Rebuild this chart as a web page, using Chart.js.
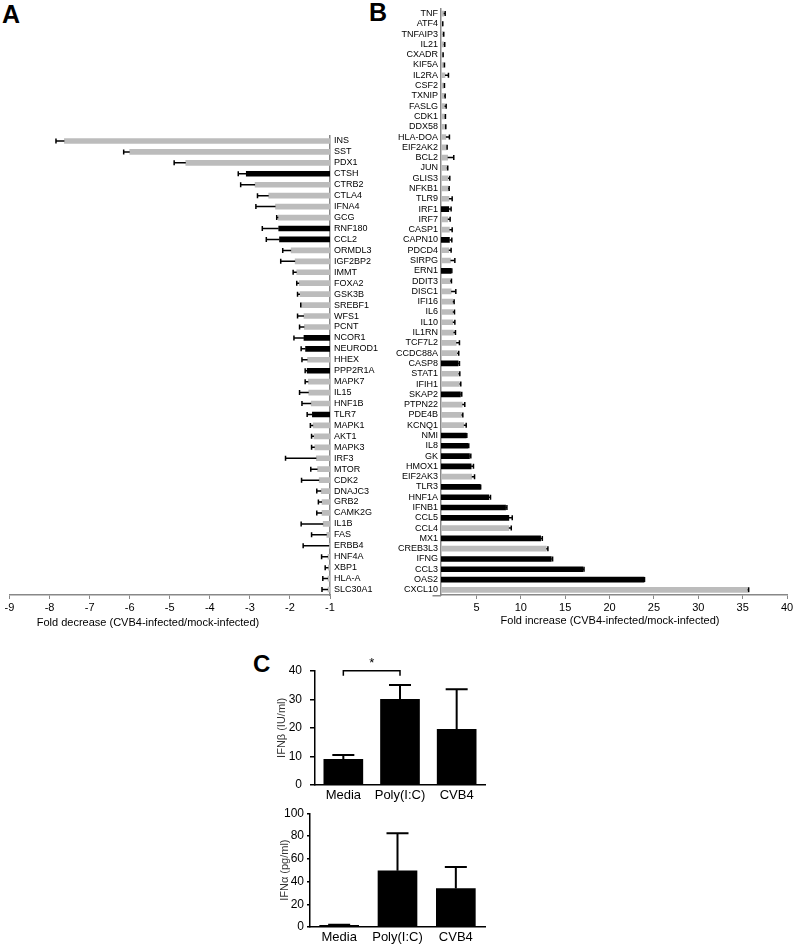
<!DOCTYPE html>
<html>
<head>
<meta charset="utf-8">
<script src="https://cdn.jsdelivr.net/npm/chart.js"></script>
<style>
body { margin:0; background:#fff; width:797px; height:947px; position:relative; overflow:hidden; }
canvas { position:absolute; }
.lab { position:absolute; font-family:"Liberation Sans", Arial, sans-serif; font-weight:bold; color:#000; }
</style>
</head>
<body>
<div class="lab" style="left:2px;top:2px;font-size:25px;line-height:25px">A</div>
<div class="lab" style="left:369px;top:0px;font-size:25px;line-height:25px">B</div>
<div class="lab" style="left:253px;top:652px;font-size:24px;line-height:24px">C</div>
<canvas id="chartA" width="400" height="635" style="left:0;top:0"></canvas>
<canvas id="chartB" width="457" height="635" style="left:340px;top:0"></canvas>
<canvas id="chartC1" width="270" height="170" style="left:230px;top:640px"></canvas>
<canvas id="chartC2" width="270" height="157" style="left:230px;top:790px"></canvas>
<script>
// panel A - genes down in CVB4 infected islets
const genesA = ['INS','SST','PDX1','CTSH','CTRB2','CTLA4','IFNA4','GCG','RNF180','CCL2','ORMDL3','IGF2BP2','IMMT','FOXA2','GSK3B','SREBF1','WFS1','PCNT','NCOR1','NEUROD1','HHEX','PPP2R1A','MAPK7','IL15','HNF1B','TLR7','MAPK1','AKT1','MAPK3','IRF3','MTOR','CDK2','DNAJC3','GRB2','CAMK2G','IL1B','FAS','ERBB4','HNF4A','XBP1','HLA-A','SLC30A1'];
const foldA = [-7.63,-6.0,-4.6,-3.09,-2.87,-2.53,-2.36,-2.29,-2.28,-2.26,-1.97,-1.87,-1.83,-1.77,-1.75,-1.71,-1.65,-1.64,-1.65,-1.61,-1.56,-1.57,-1.54,-1.53,-1.47,-1.44,-1.42,-1.40,-1.38,-1.34,-1.31,-1.27,-1.22,-1.20,-1.20,-1.17,-1.08,-1.02,-1.05,-1.04,-1.05,-1.05];
const errA = [0.21,0.15,0.29,0.2,0.36,0.28,0.49,0.04,0.41,0.33,0.21,0.36,0.09,0.06,0.06,0.02,0.16,0.12,0.25,0.11,0.14,0.05,0.08,0.23,0.23,0.13,0.07,0.06,0.08,0.77,0.17,0.44,0.11,0.09,0.13,0.55,0.38,0.65,0.16,0.08,0.13,0.15];
const blackA = ['CTSH','RNF180','CCL2','NCOR1','NEUROD1','PPP2R1A','TLR7'];

// panel B - genes up
const genesB = ['TNF','ATF4','TNFAIP3','IL21','CXADR','KIF5A','IL2RA','CSF2','TXNIP','FASLG','CDK1','DDX58','HLA-DOA','EIF2AK2','BCL2','JUN','GLIS3','NFKB1','TLR9','IRF1','IRF7','CASP1','CAPN10','PDCD4','SIRPG','ERN1','DDIT3','DISC1','IFI16','IL6','IL10','IL1RN','TCF7L2','CCDC88A','CASP8','STAT1','IFIH1','SKAP2','PTPN22','PDE4B','KCNQ1','NMI','IL8','GK','HMOX1','EIF2AK3','TLR3','HNF1A','IFNB1','CCL5','CCL4','MX1','CREB3L3','IFNG','CCL3','OAS2','CXCL10'];
const foldB = [1.3,1.15,1.2,1.3,1.15,1.3,1.45,1.3,1.35,1.4,1.4,1.45,1.55,1.6,1.75,1.65,1.8,1.8,1.9,1.88,1.77,1.95,1.95,1.88,2.07,2.14,2.03,2.14,2.33,2.33,2.33,2.4,2.71,2.82,2.93,2.97,3.08,3.19,3.39,3.31,3.57,3.84,4.02,4.21,4.4,4.47,5.42,6.39,8.28,8.65,8.65,12.23,12.87,13.43,17.0,23.89,35.56];
const errB = [0.17,0.05,0.11,0.12,0.09,0.09,0.39,0.09,0.12,0.18,0.1,0.09,0.4,0.09,0.69,0.11,0.19,0.12,0.36,0.26,0.26,0.31,0.27,0.26,0.49,0.08,0.15,0.53,0.15,0.19,0.23,0.23,0.37,0.18,0.15,0.15,0.15,0.15,0.29,0.15,0.27,0.07,0.11,0.15,0.26,0.31,0.05,0.19,0.15,0.38,0.27,0.19,0.18,0.15,0.12,0.05,0.12];
const blackB = ['IRF1','CAPN10','ERN1','CASP8','SKAP2','NMI','IL8','GK','HMOX1','TLR3','HNF1A','IFNB1','CCL5','MX1','IFNG','CCL3','OAS2'];

// panel C - interferon secretion
const groupsC = ['Media','Poly(I:C)','CVB4'];
const ifnb = [9, 30, 19.5];
const ifnbErr = [1.5, 5, 14];
const ifna = [1.5, 49.5, 33.8];
const ifnaErr = [0.5, 33, 19];

const GRAY = '#bcbcbc';
const FONT = "'Liberation Sans', Arial, sans-serif";
Chart.defaults.font.family = FONT;
Chart.defaults.color = '#000';
Chart.defaults.animation = false;
Chart.defaults.plugins.legend.display = false;
Chart.defaults.plugins.tooltip.enabled = false;

// error bars drawn away from the base of each bar
const errPlugin = {
  id: 'errs',
  afterDatasetsDraw(chart, args, opts) {
    const ctx = chart.ctx;
    const horiz = chart.options.indexAxis === 'y';
    const vs = horiz ? chart.scales.x : chart.scales.y;
    chart.data.datasets.forEach((ds, di) => {
      if (!ds.errs) return;
      chart.getDatasetMeta(di).data.forEach((bar, i) => {
        const d = ds.data[i];
        const base = Array.isArray(d) ? d[0] : 0;
        const v = Array.isArray(d) ? d[1] : d;
        const e = ds.errs[i];
        const p0 = vs.getPixelForValue(v);
        const p1 = vs.getPixelForValue(v >= base ? v + e : v - e);
        ctx.save();
        ctx.strokeStyle = '#000';
        ctx.lineWidth = opts.width;
        ctx.beginPath();
        if (horiz) {
          ctx.moveTo(p0, bar.y); ctx.lineTo(p1, bar.y);
          ctx.moveTo(p1, bar.y - opts.cap / 2); ctx.lineTo(p1, bar.y + opts.cap / 2);
        } else {
          ctx.moveTo(bar.x, p0); ctx.lineTo(bar.x, p1);
          ctx.moveTo(bar.x - opts.cap / 2, p1); ctx.lineTo(bar.x + opts.cap / 2, p1);
        }
        ctx.stroke();
        ctx.restore();
      });
    });
  }
};

// x-axis title placed by hand (panel A title sits left of centre)
const xTitle = {
  id: 'xTitle',
  afterDraw(chart, args, opts) {
    const {ctx, scales} = chart;
    ctx.save();
    ctx.fillStyle = '#000';
    ctx.font = '11px ' + FONT;
    ctx.textAlign = 'center';
    ctx.textBaseline = 'middle';
    ctx.fillText(opts.text, opts.x, opts.y);
    if (opts.ext) {
      // the horizontal axis of panel B starts at 0, left of the vertical axis at 1
      const x0 = scales.x.left, y = scales.x.top + 0.75;
      ctx.strokeStyle = '#888';
      ctx.lineWidth = 1.5;
      ctx.beginPath();
      ctx.moveTo(x0 - opts.ext, y);
      ctx.lineTo(x0, y);
      ctx.stroke();
    }
    ctx.restore();
  }
};

// significance bracket Media vs Poly(I:C)
const bracket = {
  id: 'bracket',
  afterDraw(chart) {
    const {ctx, scales} = chart;
    const y = scales.y.getPixelForValue(40);
    const x1 = scales.x.getPixelForValue(0), x2 = scales.x.getPixelForValue(1);
    ctx.save();
    ctx.strokeStyle = '#000';
    ctx.lineWidth = 1.5;
    ctx.beginPath();
    ctx.moveTo(x1, y + 5); ctx.lineTo(x1, y); ctx.lineTo(x2, y); ctx.lineTo(x2, y + 5);
    ctx.stroke();
    ctx.fillStyle = '#000';
    ctx.font = '13px ' + FONT;
    ctx.textAlign = 'center';
    ctx.fillText('*', (x1 + x2) / 2, y - 3.5);
    ctx.restore();
  }
};

function foldAxis(min, max, step, hideFirst) {
  return {
    min: min, max: max,
    ticks: { stepSize: step, color: '#000', font: { size: 11 }, padding: 2, maxRotation: 0,
      callback: v => (hideFirst && v === min) ? '' : v },
    grid: { drawOnChartArea: false, drawTicks: true, tickLength: 4,
      tickColor: c => (hideFirst && c.tick && c.tick.value === min) ? 'rgba(0,0,0,0)' : '#888', color: '#888' },
    border: { color: '#888', width: 1.5 },
    afterFit: s => { s.height = 40; }
  };
}

new Chart(document.getElementById('chartA'), {
  type: 'bar',
  data: {
    labels: genesA,
    datasets: [{
      data: foldA.map(v => [-1, v]),
      errs: errA,
      backgroundColor: genesA.map(g => blackA.includes(g) ? '#000' : GRAY),
      barThickness: 5
    }]
  },
  options: {
    responsive: false,
    indexAxis: 'y',
    layout: { padding: { top: 135.5, left: 9.5, right: 0, bottom: 0 } },
    scales: {
      x: foldAxis(-9, -1, 1, false),
      y: {
        position: 'right',
        ticks: { color: '#000', font: { size: 9 }, padding: 4, autoSkip: false },
        grid: { display: false, drawTicks: false },
        border: { display: true, color: '#888', width: 1.5 },
        afterFit: s => { s.width = 70; }
      }
    },
    plugins: {
      errs: { width: 1.5, cap: 5 },
      xTitle: { text: 'Fold decrease (CVB4-infected/mock-infected)', x: 148, y: 623 }
    }
  },
  plugins: [errPlugin, xTitle]
});

new Chart(document.getElementById('chartB'), {
  type: 'bar',
  data: {
    labels: genesB,
    datasets: [{
      data: foldB.map(v => [1, v]),
      errs: errB,
      backgroundColor: genesB.map(g => blackB.includes(g) ? '#000' : GRAY),
      barThickness: 5
    }]
  },
  options: {
    responsive: false,
    indexAxis: 'y',
    layout: { padding: { top: 4.8, left: 0, right: 10, bottom: 0 } },
    scales: {
      x: foldAxis(1, 40, 5, true),
      y: {
        position: 'left',
        ticks: { color: '#000', font: { size: 9 }, padding: 3, autoSkip: false },
        grid: { display: false, drawTicks: false },
        border: { display: true, color: '#888', width: 1.5 },
        afterFit: s => { s.width = 101; }
      }
    },
    plugins: {
      errs: { width: 1.5, cap: 5 },
      xTitle: { text: 'Fold increase (CVB4-infected/mock-infected)', x: 270, y: 621, ext: 8.5 }
    }
  },
  plugins: [errPlugin, xTitle]
});

function ifnChart(id, vals, errs, max, step, title, padTop, yWidth, titlePad, tickLen, tickPad, xHeight, extra) {
  return new Chart(document.getElementById(id), {
    type: 'bar',
    data: {
      labels: groupsC,
      datasets: [{ data: vals, errs: errs, backgroundColor: '#000', barThickness: 39 }]
    },
    options: {
      responsive: false,
      layout: { padding: { top: padTop, left: 0, right: 15, bottom: 0 } },
      scales: {
        x: {
          ticks: { color: '#000', font: { size: 13 }, padding: 3 },
          grid: { display: false, drawTicks: false },
          border: { color: '#000', width: 1.5 },
          afterFit: s => { s.height = xHeight; }
        },
        y: {
          min: 0, max: max,
          ticks: { stepSize: step, color: '#000', font: { size: 12 }, padding: tickPad },
          grid: { drawOnChartArea: false, drawTicks: true, tickLength: tickLen, color: '#000', lineWidth: 1.5 },
          border: { color: '#000', width: 1.5 },
          title: { display: true, text: title, color: '#333', font: { size: 11 }, padding: { top: titlePad, bottom: 0 } },
          afterFit: s => { s.width = yWidth; }
        }
      },
      plugins: { errs: { width: 2, cap: 22 } }
    },
    plugins: extra
  });
}

ifnChart('chartC1', ifnb, ifnbErr, 40, 10, 'IFNβ (IU/ml)', 30.7, 85, 45, 5, 8, 25, [errPlugin, bracket]);
ifnChart('chartC2', ifna, ifnaErr, 100, 20, 'IFNα (pg/ml)', 23.3, 80, 48, 3, 3, 20, [errPlugin]);
</script>
</body>
</html>
